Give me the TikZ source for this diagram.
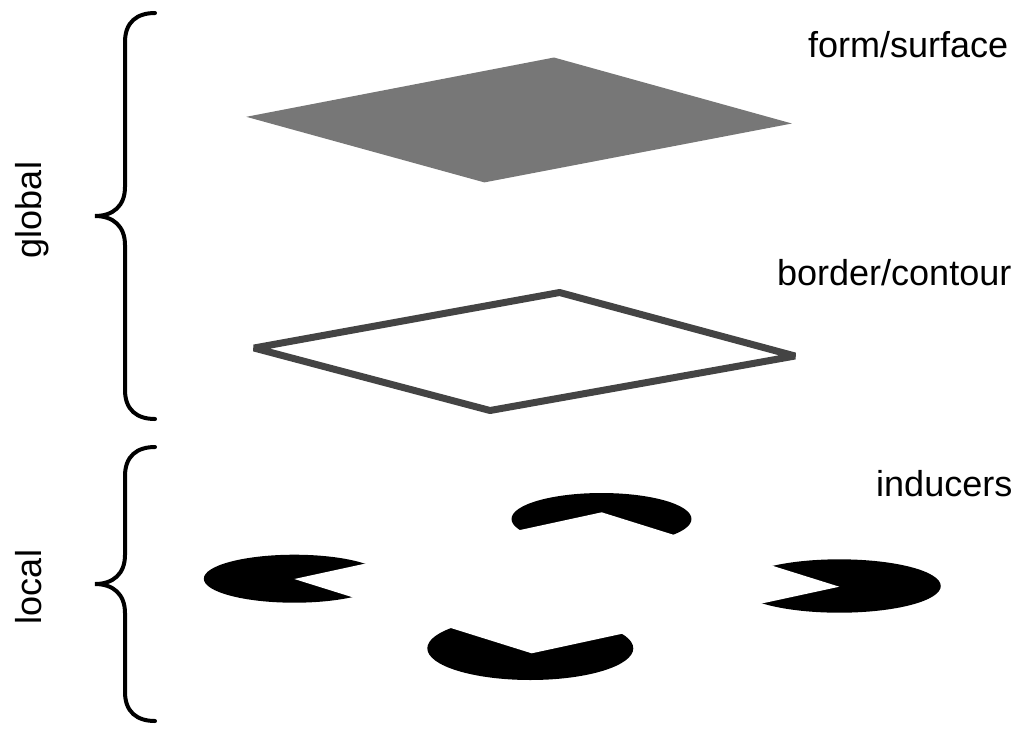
\documentclass[tikz,border=0pt]{standalone}
\usepackage{fontspec}
\setmainfont{Liberation Sans}
\usepackage{tikz}
\usetikzlibrary{calc}
\definecolor{surfgray}{HTML}{777777}
\definecolor{edgegray}{HTML}{444444}
\tikzstyle{surface} = [fill=surfgray]
\tikzstyle{contour} = [draw=edgegray, line width=0.14cm, line join=bevel]
\tikzstyle{inducer} = [fill=black]
\tikzstyle{notch} = [fill=white]
\tikzstyle{label} = [inner sep=0pt, font=\fontsize{20.5}{24}\selectfont]
\tikzstyle{curly} = [line width=0.08cm, line cap=round]

\begin{document}
\begin{tikzpicture}[x=0.02cm, y=-0.02cm]
    \useasboundingbox (0,0) rectangle (1018,728);

    % form/surface layer
    \coordinate (sL) at (246.3,116.8);
    \coordinate (sT) at (554,57.5);
    \coordinate (sR) at (791.9,123.5);
    \coordinate (sB) at (484.4,182.4);
    \fill[surface] (sL) -- (sT) -- (sR) -- (sB) -- cycle;

    % border/contour layer
    \coordinate (cL) at (254,348);
    \coordinate (cT) at (559.6,292.5);
    \coordinate (cR) at (795,356);
    \coordinate (cB) at (490,410.5);
    \draw[contour] (cL) -- (cT) -- (cR) -- (cB) -- cycle;

    % inducers (pacmen)
    \coordinate (iT) at (601.7,512.3);
    \coordinate (iL) at (294.3,579);
    \coordinate (iR) at (839.3,586.7);
    \coordinate (iB) at (531.7,653.3);
    \fill[inducer] (601.5,519) ellipse [x radius=1.8cm, y radius=0.52cm];
    \fill[inducer] (294.3,578.7) ellipse [x radius=1.81cm, y radius=0.48cm];
    \fill[inducer] (839.3,586) ellipse [x radius=2.03cm, y radius=0.534cm];
    \fill[inducer] (530.3,648.3) ellipse [x radius=2.06cm, y radius=0.634cm];
    \fill[notch] (iT) -- ($(iT)!0.55!(iL)$) -- ($(iT)!0.55!(iR)$) -- cycle;
    \fill[notch] (iL) -- ($(iL)!0.55!(iT)$) -- ($(iL)!0.55!(iB)$) -- cycle;
    \fill[notch] (iR) -- ($(iR)!0.55!(iT)$) -- ($(iR)!0.55!(iB)$) -- cycle;
    \fill[notch] (iB) -- ($(iB)!0.55!(iL)$) -- ($(iB)!0.55!(iR)$) -- cycle;

    % labels
    \node[label, anchor=base east] (formlbl) at (1008.5,57.3) {form/surface};
    \node[label, anchor=base east] (borderlbl) at (1011.7,285) {border/contour};
    \node[label, anchor=base east] (induclbl) at (1012.7,496.7) {inducers};
    \node[label, rotate=90, anchor=base] (globallbl) at (41,210) {global};
    \node[label, rotate=90, anchor=base] (locallbl) at (41.7,587) {local};

    % braces
    \draw[curly] (155,13) .. controls (137,13) and (125,22) .. (125,42) -- (125,187)
        .. controls (125,206) and (113,216) .. (95,216)
        .. controls (113,216) and (125,226) .. (125,245) -- (125,390)
        .. controls (125,410) and (137,419) .. (155,419);
    \draw[curly] (155,447) .. controls (137,447) and (125,456) .. (125,476) -- (125,555)
        .. controls (125,574) and (113,584) .. (95,584)
        .. controls (113,584) and (125,594) .. (125,613) -- (125,692)
        .. controls (125,712) and (137,721) .. (155,721);
\end{tikzpicture}
\end{document}
